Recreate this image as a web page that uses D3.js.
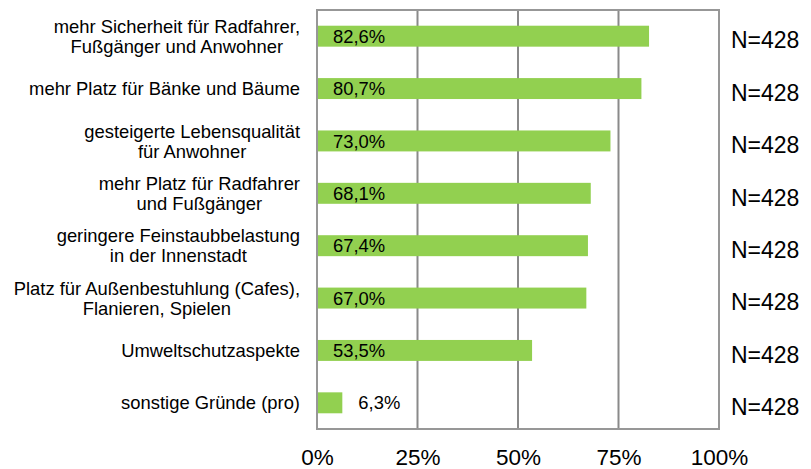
<!DOCTYPE html>
<html lang="de">
<head>
<meta charset="utf-8">
<script src="https://cdn.jsdelivr.net/npm/d3@7/dist/d3.min.js"></script>
<style>
  html, body { margin: 0; padding: 0; background: #fff; }
  svg { display: block; font-family: "Liberation Sans", Arial, sans-serif; }
</style>
</head>
<body>
<svg id="chart" width="811" height="469"></svg>
<script>
// Reasons in favour – share of respondents (percent)
const categories = [
  ["mehr Sicherheit für Radfahrer,", "Fußgänger und Anwohner"],
  ["mehr Platz für Bänke und Bäume"],
  ["gesteigerte Lebensqualität", "für Anwohner"],
  ["mehr Platz für Radfahrer", "und Fußgänger"],
  ["geringere Feinstaubbelastung", "in der Innenstadt"],
  ["Platz für Außenbestuhlung (Cafes),", "Flanieren, Spielen"],
  ["Umweltschutzaspekte"],
  ["sonstige Gründe (pro)"]
];
const values = [82.6, 80.7, 73.0, 68.1, 67.4, 67.0, 53.5, 6.3];
const sampleSizes = [428, 428, 428, 428, 428, 428, 428, 428];
const tickValues = [0, 25, 50, 75, 100];

const de = d3.formatLocale({ decimal: ",", thousands: ".", grouping: [3], currency: ["", " €"] });
const fmt = de.format(".1f");

const svg = d3.select("#chart");
const plot = { left: 317, right: 719, top: 10, bottom: 429 };

const x = d3.scaleLinear().domain([0, 100]).range([plot.left, plot.right]);
const y = d3.scaleBand()
  .domain(d3.range(values.length))
  .range([plot.top, plot.bottom])
  .paddingInner(0.6)
  .paddingOuter(0.3);

const gridColor = "#8a8a8a";

// vertical grid lines
svg.append("g")
  .selectAll("line")
  .data(tickValues.slice(1, -1))
  .join("line")
  .attr("x1", d => x(d)).attr("x2", d => x(d))
  .attr("y1", plot.top).attr("y2", plot.bottom)
  .attr("stroke", gridColor)
  .attr("stroke-width", 2);

// plot frame
svg.append("rect")
  .attr("x", plot.left).attr("y", plot.top)
  .attr("width", plot.right - plot.left)
  .attr("height", plot.bottom - plot.top)
  .attr("fill", "none")
  .attr("stroke", "#979797")
  .attr("stroke-width", 2);

// bars
svg.append("g")
  .selectAll("rect")
  .data(values)
  .join("rect")
  .attr("x", x(0) + 1)
  .attr("y", (d, i) => y(i))
  .attr("width", d => x(d) - x(0) - 1)
  .attr("height", y.bandwidth())
  .attr("fill", "#92D050");

// value labels: inside at the base, or after the bar end when it is too short
svg.append("g")
  .selectAll("text")
  .data(values)
  .join("text")
  .attr("x", d => (d < 15 ? x(d) : x(0)) + 16)
  .attr("y", (d, i) => y(i) + y.bandwidth() / 2)
  .attr("dy", "0.36em")
  .attr("font-size", 18.4)
  .attr("fill", "#000")
  .text(d => fmt(d) + "%");

// category labels: block right-aligned to the axis, lines centred within the block
const labelRight = 300;
const lineHeight = 20;
const catG = svg.append("g");
categories.forEach((lines, i) => {
  const cy = y(i) + y.bandwidth() / 2;
  const t = catG.append("text")
    .attr("font-size", 18.4)
    .attr("fill", "#000")
    .attr("text-anchor", "middle");
  lines.forEach((ln, k) => {
    t.append("tspan")
      .attr("y", cy + (k - (lines.length - 1) / 2) * lineHeight)
      .attr("dy", "0.36em")
      .text(ln);
  });
  let maxW = 0;
  t.selectAll("tspan").each(function () { maxW = Math.max(maxW, this.getComputedTextLength()); });
  t.selectAll("tspan").attr("x", labelRight - maxW / 2);
});

// sample size labels
svg.append("g")
  .selectAll("text")
  .data(sampleSizes)
  .join("text")
  .attr("x", 731)
  .attr("y", (d, i) => y(i) + y.bandwidth() / 2 + 4)
  .attr("dy", "0.36em")
  .attr("font-size", 23)
  .attr("fill", "#000")
  .text(d => "N=" + d);

// x axis tick labels
const xAxis = d3.axisBottom(x)
  .tickValues(tickValues)
  .tickSize(0)
  .tickPadding(0)
  .tickFormat(d => d + "%");
const ax = svg.append("g")
  .attr("transform", `translate(0,${plot.bottom})`)
  .call(xAxis);
ax.select(".domain").remove();
ax.selectAll("text")
  .attr("font-family", "'Liberation Sans', Arial, sans-serif")
  .attr("font-size", 22.5)
  .attr("fill", "#000")
  .attr("dy", null)
  .attr("y", 36);
</script>
</body>
</html>
